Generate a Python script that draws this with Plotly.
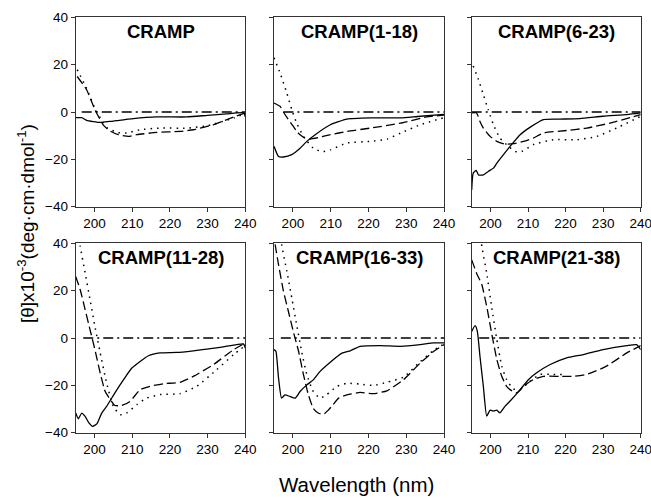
import plotly.graph_objects as go

titles = ["CRAMP", "CRAMP(1-18)", "CRAMP(6-23)", "CRAMP(11-28)", "CRAMP(16-33)", "CRAMP(21-38)"]

# Panel 1: CRAMP
p1_solid_x = [195, 196.6, 197.9, 201.5, 204, 210.3, 216.5, 224.5, 230, 235, 239.6, 240]
p1_solid_y = [-2.4, -2.4, -3.5, -4.4, -4, -2.8, -2.1, -2.1, -1.4, -0.8, -0.4, -2]
p1_dash_x = [195.4, 197.9, 200.1, 202.3, 204, 206.3, 209, 211.2, 216.5, 222.7, 226.2, 231.5, 236.9, 240]
p1_dash_y = [15, 9.4, 1, -5.4, -7.9, -9.6, -10.3, -9.6, -8.6, -8.2, -7.5, -5.4, -2.1, -0.4]
p1_dot_x = [195.4, 197.9, 200.1, 202.3, 203.5, 205.9, 208.5, 212, 217.4, 224.5, 230, 237, 240]
p1_dot_y = [17.9, 10, 1.5, -4.5, -6.8, -8.6, -8.9, -7.5, -6.8, -6.8, -5.8, -2.5, -0.7]

# Panel 2: CRAMP(1-18)
p2_solid_x = [195, 196.2, 197.5, 199.7, 201.9, 203.7, 205.9, 209.9, 214.3, 220.5, 228.5, 233, 240]
p2_solid_y = [-14.5, -18.8, -19, -18, -15.3, -12.4, -9.6, -5.4, -3, -2.5, -2.5, -1.9, -1]
p2_dash_x = [195, 196.6, 197.5, 198.8, 200.1, 201, 201.9, 203.2, 204.6, 207.2, 209.9, 214.3, 220.5, 228.5, 235.4, 240]
p2_dash_y = [3.8, 2.4, 0, -3.2, -6, -8.2, -9.6, -11, -11.4, -10.6, -9.6, -8.2, -6.8, -4.7, -2.1, -1.3]
p2_dot_x = [195, 196.6, 198.4, 199.7, 201, 202.8, 205.4, 207.7, 209.9, 214.3, 220.5, 225, 228.5, 233.7, 240]
p2_dot_y = [22.9, 16.5, 8, 1, -4.7, -10.3, -15.3, -16.7, -16, -13.1, -12.4, -11.4, -8.9, -5.4, -2.4]

# Panel 3: CRAMP(6-23)
p3_solid_x = [195, 195.4, 196.2, 196.8, 198.1, 199.4, 200.8, 201.7, 203.4, 205.6, 207.9, 210.5, 214.1, 218.5, 223.8, 230, 236.3, 240]
p3_solid_y = [-32.9, -25.8, -24.7, -26.6, -26.6, -25.1, -23.7, -21.6, -18.1, -13.8, -9.6, -6.5, -3.2, -3, -2.8, -1.8, -1.1, -0.4]
p3_dash_x = [195, 196.3, 197.2, 198.1, 199.9, 201.7, 203.9, 206.1, 208.8, 211.4, 214.1, 220.3, 225.6, 231.8, 240]
p3_dash_y = [-0.4, -0.4, -4, -6.8, -10.3, -12.4, -13.6, -13.4, -12.4, -11, -8.9, -7.8, -6.8, -4.7, -1.1]
p3_dot_x = [195.4, 196.8, 198.1, 199.4, 200.8, 202.5, 204.8, 206.5, 208.3, 211.4, 216.7, 223, 228.3, 234.5, 240]
p3_dot_y = [19.4, 13.7, 7.3, 1, -5.4, -11, -14.5, -16.7, -16.7, -13.8, -11.7, -11.7, -10.3, -6.1, -1.8]

# Panel 4: CRAMP(11-28)
p4_solid_x = [195, 195.7, 196.6, 197.5, 198.4, 199.5, 200.6, 201.9, 203.2, 205.4, 207.7, 209.9, 212.1, 214.3, 217.4, 221.8, 226.2, 232.4, 237.7, 239.5, 240]
p4_solid_y = [-31.7, -34.1, -31.7, -33.1, -35.6, -37.3, -36.3, -31.7, -28.9, -23.2, -17.6, -12.7, -9.9, -7.5, -6.3, -6.1, -5.4, -4.2, -2.8, -2.5, -4.2]
p4_dash_x = [195, 196.2, 197.5, 198.8, 200.1, 201.5, 202.8, 204.1, 205.4, 207.2, 209.4, 212.1, 214.7, 218.3, 222.7, 226.2, 231.5, 236.9, 240]
p4_dash_y = [26, 20.4, 12, 3.5, -4.9, -14.8, -22.5, -25.8, -28.5, -28.5, -26.8, -21.8, -20.4, -19.3, -18.7, -16.2, -11.3, -4.9, -2.1]
p4_dot_x = [195, 196.2, 197.5, 198.8, 200.1, 201.5, 203.2, 205, 206.8, 208.5, 211.2, 213.8, 217.4, 222.7, 227.1, 232.4, 236.9, 240]
p4_dot_y = [50, 38.7, 27.5, 16.2, 4.9, -6.3, -19, -28.9, -32.4, -31.7, -28.2, -25.4, -23.9, -23.5, -20.4, -13.4, -7, -3.2]

# Panel 5: CRAMP(16-33)
p5_solid_x = [195, 195.5, 196.2, 197, 197.9, 199.2, 200.6, 201.9, 203.7, 205.4, 207.2, 209.9, 213, 215.2, 217.8, 223.1, 228.5, 233.7, 237.3, 240]
p5_solid_y = [-4.9, -5.6, -16.9, -25.4, -24, -24.7, -25.4, -22.6, -19.8, -17.7, -14.1, -10.2, -6.4, -5.4, -3.5, -3.2, -3.5, -2.8, -2.1, -2.1]
p5_dash_x = [194.8, 195.3, 196.2, 197.5, 198.8, 200.1, 201.5, 202.8, 204.1, 205.4, 206.8, 208.1, 209.4, 210.5, 212.1, 214.3, 217.8, 221.3, 224.9, 229.3, 233.7, 237.3, 240]
p5_dash_y = [45, 39.5, 31, 19.8, 11.3, 2.8, -5.6, -15.5, -24, -29.7, -31.8, -32.2, -30.4, -28.5, -25.4, -24, -23, -23.5, -22.3, -17.6, -10.6, -5.6, -2.8]
p5_dot_x = [196.6, 197, 198.4, 199.7, 201, 202.3, 203.7, 205.4, 207.2, 208.9, 211.6, 214.3, 217.8, 221.4, 224.9, 229.3, 233.7, 237.3, 240]
p5_dot_y = [45, 39.5, 28.2, 17, 5.6, -5.6, -15.5, -22.6, -25.4, -24, -20.5, -19.1, -19.5, -20, -18.7, -16.5, -10, -5.2, -2.5]

# Panel 6: CRAMP(21-38)
p6_solid_x = [195, 195.9, 196.5, 197.2, 198.1, 199, 199.9, 200.8, 201.7, 202.5, 203.9, 205.6, 207.9, 210.1, 212.3, 215.9, 220.3, 224.7, 230, 236.3, 238.9, 240]
p6_solid_y = [2.8, 5.2, 2.8, -7.7, -20.4, -33, -30.5, -30.9, -30.5, -31.6, -28.8, -26, -21.8, -17.6, -14.7, -11.2, -8.4, -7, -4.9, -3.2, -2.8, -4.9]
p6_dash_x = [195, 196.3, 197.7, 199, 200.3, 201.7, 203, 204.3, 205.2, 207, 208.8, 211.4, 214.1, 218.5, 222.1, 225.6, 230.9, 236.3, 240]
p6_dash_y = [33, 27.4, 22.5, 13.3, 2.1, -9.1, -16.2, -20.4, -21.8, -23.2, -20.4, -17.6, -16.2, -16.2, -16.2, -15.4, -11.9, -6.3, -3.2]
p6_dot_x = [197.2, 197.7, 199, 200.3, 201.7, 203, 204.3, 206.1, 207.9, 210.5, 213.2, 216.7, 220.3]
p6_dot_y = [45, 38.6, 27.4, 13.3, -0.7, -11.9, -17.6, -21.5, -21.8, -18.3, -15.4, -15.4, -15.4]

zero_x = [[196.6, 240], [197.5, 240], [195, 240], [197, 240], [196.8, 240], [197, 240]]
zero_y = [0, 0]

panels = [
    (p1_solid_x, p1_solid_y, p1_dash_x, p1_dash_y, p1_dot_x, p1_dot_y),
    (p2_solid_x, p2_solid_y, p2_dash_x, p2_dash_y, p2_dot_x, p2_dot_y),
    (p3_solid_x, p3_solid_y, p3_dash_x, p3_dash_y, p3_dot_x, p3_dot_y),
    (p4_solid_x, p4_solid_y, p4_dash_x, p4_dash_y, p4_dot_x, p4_dot_y),
    (p5_solid_x, p5_solid_y, p5_dash_x, p5_dash_y, p5_dot_x, p5_dot_y),
    (p6_solid_x, p6_solid_y, p6_dash_x, p6_dash_y, p6_dot_x, p6_dot_y),
]

W, H = 651, 498
xdoms_px = [(75.7, 245.3), (274, 444), (471.7, 640.7)]
ydoms_px = [(17.3, 206.7), (243.3, 432.7)]
FONT = "Arial, Liberation Sans, sans-serif"

fig = go.Figure()
layout = dict(
    width=W, height=H, autosize=False, margin=dict(l=0, r=0, t=0, b=0, pad=0, autoexpand=False),
    paper_bgcolor="white", plot_bgcolor="white", showlegend=False,
    font=dict(family=FONT, color="black"),
)
annotations = []
for i, (sx, sy, dx, dy, ox, oy) in enumerate(panels):
    r, c = divmod(i, 3)
    n = i + 1
    xa = "x" if n == 1 else f"x{n}"
    ya = "y" if n == 1 else f"y{n}"
    line_common = dict(color="black", width=1.3)
    fig.add_trace(go.Scatter(x=zero_x[i], y=zero_y, mode="lines", xaxis=xa, yaxis=ya,
                             line=dict(color="black", width=1.3, dash="10px,4px,2px,4px")))
    fig.add_trace(go.Scatter(x=sx, y=sy, mode="lines", xaxis=xa, yaxis=ya,
                             line=dict(line_common, shape="spline", smoothing=0.5)))
    fig.add_trace(go.Scatter(x=dx, y=dy, mode="lines", xaxis=xa, yaxis=ya,
                             line=dict(line_common, dash="9px,4px", shape="spline", smoothing=0.5)))
    fig.add_trace(go.Scatter(x=ox, y=oy, mode="lines", xaxis=xa, yaxis=ya,
                             line=dict(color="black", width=1.5, dash="1.5px,5px", shape="spline", smoothing=0.5)))
    x0, x1 = xdoms_px[c]
    y0, y1 = ydoms_px[r]
    xd = [x0 / W, x1 / W]
    yd = [1 - y1 / H, 1 - y0 / H]
    xkey = "xaxis" if n == 1 else f"xaxis{n}"
    ykey = "yaxis" if n == 1 else f"yaxis{n}"
    layout[xkey] = dict(domain=xd, anchor=ya, range=[195, 240], tickvals=[200, 210, 220, 230, 240],
                        ticks="outside", ticklen=4, tickwidth=1, tickcolor="#333", automargin=False,
                        ticklabeloverflow="allow",
                        showline=True, linecolor="#333", linewidth=1, mirror=True,
                        showgrid=False, zeroline=False, tickfont=dict(size=13.5, family=FONT, color="black"))
    layout[ykey] = dict(domain=yd, anchor=xa, range=[-40, 40], tickvals=[-40, -20, 0, 20, 40],
                        ticks="outside", ticklen=4, tickwidth=1, tickcolor="#333", automargin=False,
                        ticklabeloverflow="allow",
                        showticklabels=(c == 0),
                        showline=True, linecolor="#333", linewidth=1, mirror=True,
                        showgrid=False, zeroline=False, tickfont=dict(size=13.5, family=FONT, color="black"))
    annotations.append(dict(text=f"<b>{titles[i]}</b>", x=(x0 + x1) / 2 / W, y=1 - (y0 + 2) / H,
                            xref="paper", yref="paper", xanchor="center", yanchor="top",
                            showarrow=False, font=dict(size=18.5, family=FONT, color="black")))

annotations.append(dict(text="[θ]x10<sup>-3</sup>(deg·cm·dmol<sup>-1</sup>)", x=26 / W, y=1 - 224 / H,
                        xref="paper", yref="paper", xanchor="center", yanchor="middle", textangle=-90,
                        showarrow=False, font=dict(size=19, family=FONT, color="black")))
annotations.append(dict(text="Wavelength (nm)", x=356 / W, y=1 - 484 / H,
                        xref="paper", yref="paper", xanchor="center", yanchor="middle",
                        showarrow=False, font=dict(size=20.5, family=FONT, color="black")))
layout["annotations"] = annotations
fig.update_layout(**layout)
fig.write_html("out.html", config={"displayModeBar": False, "responsive": False},
               post_script="document.body.style.margin='0px';document.body.style.overflow='hidden';")
